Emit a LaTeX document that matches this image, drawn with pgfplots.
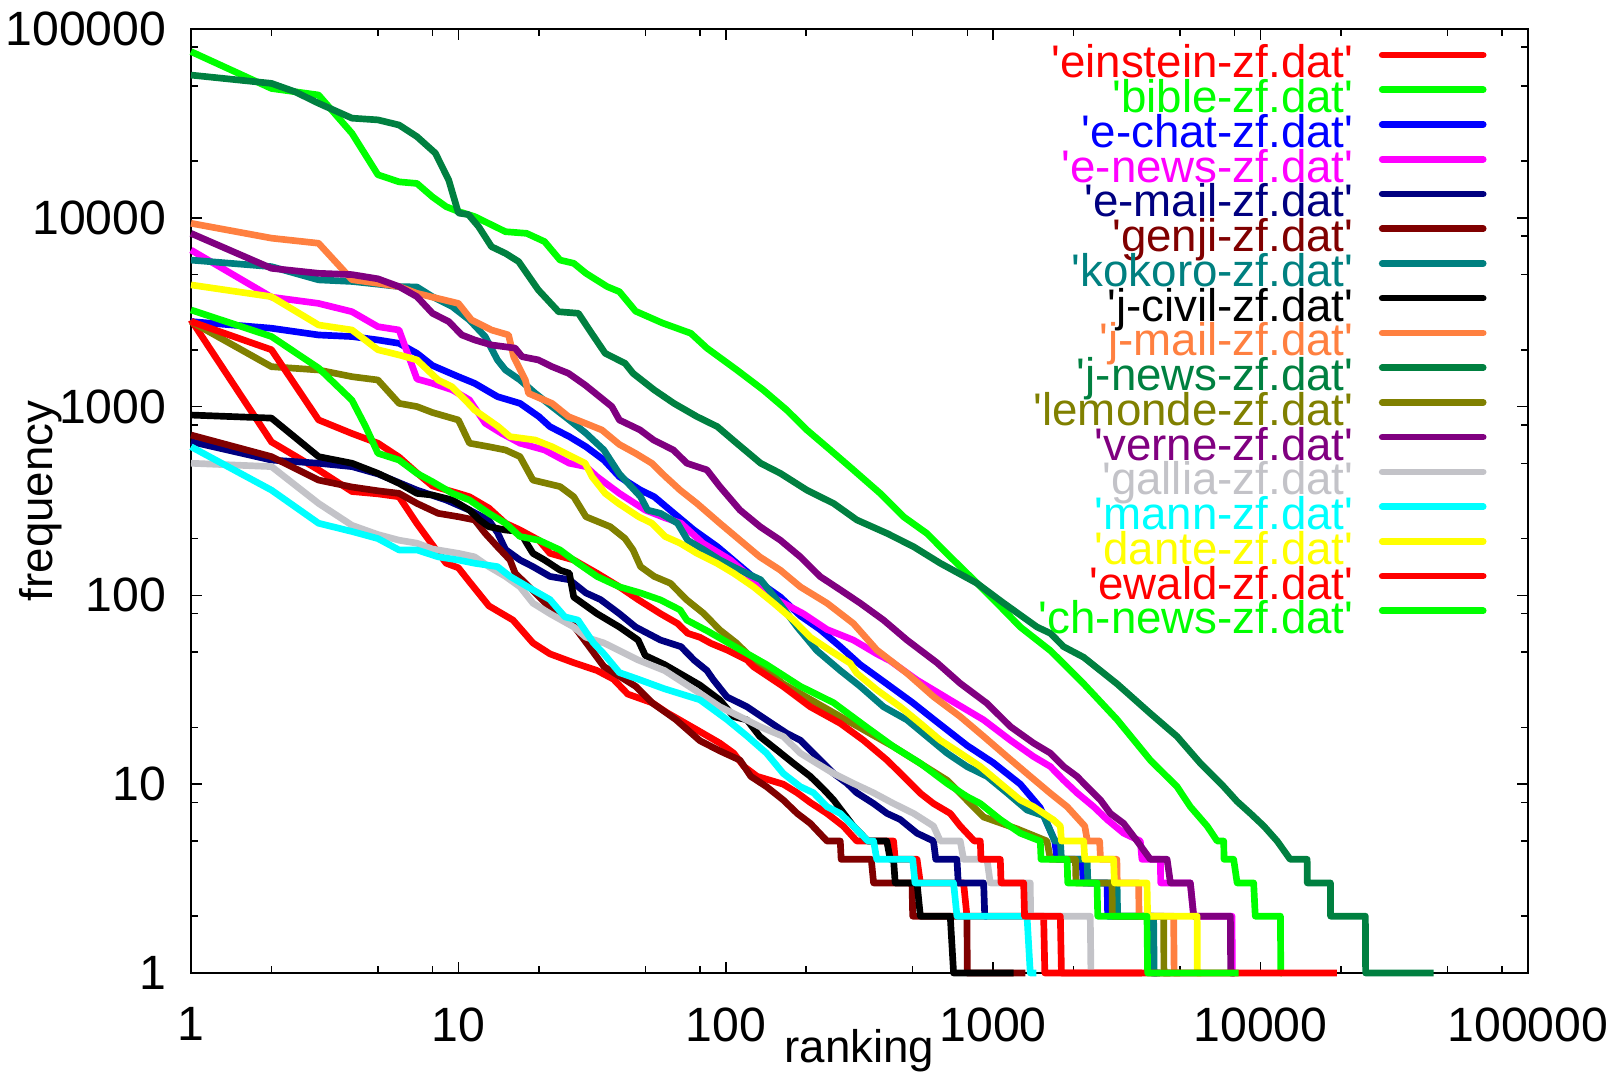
\documentclass[border=0pt]{standalone}
\usepackage{fontspec}
\setmainfont{Liberation Sans}
\usepackage{pgfplots}
\pgfplotsset{compat=1.18}

\definecolor{cEin}{RGB}{255,0,0}
\definecolor{cBib}{RGB}{0,255,0}
\definecolor{cChat}{RGB}{0,0,255}
\definecolor{cNews}{RGB}{255,0,255}
\definecolor{cMail}{RGB}{0,0,128}
\definecolor{cGenji}{RGB}{128,0,0}
\definecolor{cKok}{RGB}{0,128,128}
\definecolor{cCivil}{RGB}{0,0,0}
\definecolor{cJmail}{RGB}{255,128,64}
\definecolor{cJnews}{RGB}{0,128,64}
\definecolor{cLem}{RGB}{128,128,0}
\definecolor{cVerne}{RGB}{128,0,128}
\definecolor{cGal}{RGB}{195,195,200}
\definecolor{cMann}{RGB}{0,255,255}
\definecolor{cDante}{RGB}{255,255,0}
\definecolor{cEwald}{RGB}{255,0,0}
\definecolor{cCh}{RGB}{0,255,0}

\newcommand\q{\textquotesingle}
\newcommand\entry[2]{\addlegendentry{\textcolor{#1}{\q#2\q}}}

\begin{document}
\begin{tikzpicture}
\useasboundingbox (-1.91cm,-1.01cm) rectangle (14.28cm,9.73cm);
\begin{axis}[
  scale only axis, width=13.37cm, height=9.44cm,
  xmode=log, ymode=log,
  xmin=1, xmax=100000, ymin=1, ymax=100000,
  xtick={1,10,100,1000,10000,100000},
  xticklabels={1,10,100,1000,10000,100000},
  ytick={1,10,100,1000,10000,100000},
  yticklabels={1,10,100,1000,10000,100000},
  minor xtick={2,5,8,20,50,80,200,500,800,2000,5000,8000,20000,50000,80000},
  minor ytick={2,5,8,20,50,80,200,500,800,2000,5000,8000,20000,50000,80000},
  major tick length=0.11cm, minor tick length=0.07cm,
  tick style={black, line width=0.45pt},
  axis line style={line width=0.45pt},
  tick label style={font=\fontsize{13.7pt}{16pt}\selectfont, inner sep=0pt},
  xticklabel style={yshift=-0.34cm},
  yticklabel style={xshift=-0.24cm},
  xlabel={ranking}, ylabel={frequency},
  label style={font=\fontsize{13pt}{15pt}\selectfont, inner sep=0pt},
  xlabel style={at={(axis description cs:0.5,-0.0953)}, anchor=base},
  ylabel style={at={(axis description cs:-0.1036,0.5)}, anchor=base},
  clip=false,
  every axis plot/.append style={line width=1.9pt, line join=round},
  legend plot pos=right,
  legend cell align=right,
  legend image code/.code={\draw[#1, line width=1.9pt, line cap=round] (0cm,0.14cm) -- (1.01cm,0.14cm);},
  legend style={at={(axis description cs:0.969,0.976)}, anchor=north east,
    draw=none, fill=none, inner sep=0pt, outer sep=0pt,
    font=\fontsize{13pt}{15pt}\selectfont,
    nodes={inner sep=0pt, text height=0.25cm, text depth=0.07cm},
    row sep=0.014cm, column sep=0.255cm},
]

% einstein
\addplot[cEin] coordinates {
(1,2880) (2,650) (3,462) (4,355) (5,345) (6,333) (7,240) (8,185) (9,148) (10,140)
(11,118) (13,88) (16,74) (19,56) (22,49) (27,44) (33,40) (38,36) (43,30) (53,27)
(60,24) (80,19) (95,16.5) (107,14.6) (117,12.4) (131,11) (164,10) (185,9) (207,8)
(239,7) (275,6) (309,5) (424,5) (430,4) (519,4) (534,3) (775,3) (798,2) (1544,2)
(1560,1) (3600,1)};
\entry{cEin}{einstein-zf.dat}

% bible
\addplot[cBib] coordinates {
(1,75900) (2,48400) (3,44700) (4,28000) (5,16900) (6,15500) (7,15200) (8,12900)
(9,11450) (10,10800) (11.5,10150) (15,8440) (18,8270) (21,7480) (24,5970) (27,5740)
(30,5080) (36,4320) (40,4060) (46,3200) (58,2770) (74,2445) (85,2040) (110,1563)
(138,1225) (169,959) (201,752) (246,589) (300,462) (378,347) (462,261) (565,213)
(691,160) (845,121) (1033,91) (1263,68) (1636,51) (2180,34) (2905,22) (3870,13.4)
(4870,9.7) (5460,7.6) (6310,6) (6880,5) (7280,5) (7300,4) (7930,4) (8170,3)
(9420,3) (9550,2) (11860,2) (11900,1) (12000,1)};
\entry{cBib}{bible-zf.dat}

% e-chat
\addplot[cChat] coordinates {
(1,2820) (2,2600) (3,2395) (4,2350) (5,2254) (6,2163) (7,1915) (8,1650) (10,1440)
(11.5,1328) (14,1129) (17,1040) (20,885) (22,783) (26,693) (30,613) (35,521)
(40,425) (48,361) (54,333) (64,272) (76,222) (93,181) (110,148) (135,116) (160,98)
(190,78) (225,66) (268,53.5) (318,43) (400,34) (500,27) (600,22) (800,16) (1000,13)
(1263,10) (1500,7.5) (1700,5) (1733,4) (2150,4) (2170,3) (2666,3) (2680,2)
(3900,2) (3920,1) (4100,1)};
\entry{cChat}{e-chat-zf.dat}

% e-news
\addplot[cNews] coordinates {
(1,6750) (2,3800) (3,3520) (4,3180) (5,2650) (6,2545) (7,1400) (8,1328) (9.5,1225)
(11,1084) (12.6,816) (14.5,722) (17,640) (21,589) (26,501) (30,481) (33,425)
(40,347) (50,283) (59,258) (68,241) (82,189) (104,154) (127,121) (155,95) (195,80)
(239,66) (300,58) (367,49) (412,45) (519,35.6) (691,27.9) (921,21.9) (1159,17.1)
(1416,14) (1636,12.4) (1834,10.5) (2057,9) (2375,7.6) (2666,6.5) (3075,5.5)
(3550,5) (3600,4) (4220,4) (4230,3) (5460,3) (5620,2) (7820,2) (7840,1) (8000,1)};
\entry{cNews}{e-news-zf.dat}

% e-mail
\addplot[cMail] coordinates {
(1,652) (2,521) (3,501) (4,481) (5,440) (7,361) (9,320) (11,283) (13,250) (14,215)
(15,175) (17,154) (19,142) (22,126) (26,121) (30,103) (34,95) (40,80) (46,68)
(57,58) (68,53.5) (76,45.5) (85,40) (90,35.6) (101,29) (120,25.7) (142,21.9)
(169,18.6) (190,17.1) (219,14) (253,11.4) (284,10.1) (309,9) (357,7.9) (401,7)
(449,6.5) (519,5.5) (598,5) (610,4) (732,4) (740,3) (921,3) (930,2) (950,2)};
\entry{cMail}{e-mail-zf.dat}

% genji
\addplot[cGenji] coordinates {
(1,707) (2,543) (3,408) (4,375) (5,358) (6,347) (7,307) (8.4,272) (10,261)
(11.5,251) (12.6,213) (14,181) (15.6,154) (16.3,131) (19.4,103) (22.4,84)
(26.6,71) (35,42) (46,33) (53,27) (65,22) (80,17) (95,15) (113,13.4) (124,11)
(142,9.7) (164,8.25) (185,7) (207,6.2) (239,5) (268,5) (270,4) (350,4) (357,3)
(497,3) (500,2) (798,2) (800,1) (1319,1)};
\entry{cGenji}{genji-zf.dat}

% kokoro
\addplot[cKok] coordinates {
(1,5970) (2,5510) (3,4690) (4,4600) (5,4450) (6,4320) (7,4300) (8,3820) (9.5,3380)
(11,2875) (12.6,2345) (14,1766) (15,1563) (17,1383) (19.4,1175) (22.4,1000)
(26,849) (30,722) (35,589) (40,440) (48,333) (51,283) (57,272) (66,241) (72,196)
(83,174) (95,154) (113,136) (135,121) (155,95) (185,68) (219,51) (268,40) (318,33)
(389,25.7) (476,21.9) (565,17.9) (672,14.6) (798,12.4) (948,11) (1126,9)
(1338,7.3) (1544,6.8) (1700,5) (1783,5) (1800,4) (2244,4) (2260,3) (2905,3)
(2920,2) (3980,2) (4000,1) (4200,1)};
\entry{cKok}{kokoro-zf.dat}

% j-civil
\addplot[cCivil] coordinates {
(1,902) (2,869) (3,543) (4,501) (5,443) (6,392) (7,347) (8,340) (9.5,320) (11,283)
(12,251) (13,231) (15,222) (17,218) (18,189) (19,167) (21,154) (24,136) (26,131)
(27,98) (33,80) (40,68) (47,58) (50,48) (59,43) (80,33.5) (95,27.9) (107,22.8)
(120,21.9) (134,17.9) (155,15.2) (179,12.9) (207,11) (232,9.4) (253,8.25)
(270,7.3) (300,6) (340,5) (400,5) (412,4) (424,4) (430,3) (519,3) (534,2) (691,2)
(711,1) (1192,1)};
\entry{cCivil}{j-civil-zf.dat}

% j-mail
\addplot[cJmail] coordinates {
(1,9350) (2,7800) (3,7330) (4,4700) (5,4500) (6,4320) (7,3980) (8,3800) (10,3520)
(11.2,2875) (13.3,2545) (15.4,2395) (16.1,1838) (16.8,1627) (17.8,1383)
(18.3,1175) (22.4,1040) (25.8,885) (29.8,816) (34.4,752) (40,630) (46,565)
(53,500) (59,430) (67.5,361) (78,307) (95,241) (113,196) (134,160) (160,136)
(190,111) (239,91) (300,71) (367,51.4) (476,38.7) (598,29.1) (753,22.8)
(921,17.9) (1126,14) (1376,11) (1636,8.95) (1890,7.6) (2200,6) (2250,5) (2500,5)
(2520,4) (2900,4) (2910,3) (3500,3) (3510,2) (4730,2) (4750,1) (5000,1)};
\entry{cJmail}{j-mail-zf.dat}

% j-news
\addplot[cJnews] coordinates {
(1,57000) (2,51500) (2.45,46500) (3,40400) (4,33700) (5,33000) (6,31000) (7,26900)
(8.2,22000) (9.2,15850) (10,10600) (10.9,10400) (11.9,8980) (13.3,7030) (15,6480)
(16.8,5860) (19.9,4150) (23.7,3180) (28.1,3120) (31.5,2445) (35.4,1915) (42,1695)
(45,1500) (54,1225) (64,1040) (78,885) (93,783) (110,639) (135,501) (160,443)
(201,361) (253,307) (309,251) (401,213) (504,181) (634,148) (869,116) (1094,91)
(1459,68) (1636,63) (1834,53.5) (2180,47) (2905,34) (3870,23.7) (4870,17.9)
(5955,12.9) (7280,9.7) (8170,8.1) (9160,7) (10280,6) (11530,5) (12900,4)
(14930,4) (14950,3) (18250,3) (18270,2) (24650,2) (24700,1) (44400,1)};
\entry{cJnews}{j-news-zf.dat}

% lemonde
\addplot[cLem] coordinates {
(1,2820) (2,1627) (3,1563) (4,1440) (5,1383) (6,1040) (7,1000) (8,930) (10,849)
(11,640) (13,613) (15,589) (17,543) (19,408) (24,377) (27,333) (30,261) (37,231)
(42,200) (45,174) (48,142) (54,126) (62,116) (71.5,94.6) (82.5,80.4) (95,65.6)
(110,55.7) (127,45.5) (164,34) (268,22.8) (424,15.8) (672,10.5) (921,6.7)
(1228,5.8) (1589,5) (1636,4) (2030,4) (2040,3) (2782,3) (2790,2) (4340,2)
(4350,1) (4600,1)};
\entry{cLem}{lemonde-zf.dat}

% verne
\addplot[cVerne] coordinates {
(1,8270) (2,5400) (3,5080) (4,5000) (5,4750) (6,4320) (7,3820) (8,3120) (9.2,2820)
(10.3,2395) (11.5,2254) (13.3,2120) (16.3,2040) (17.3,1838) (19.9,1767)
(22.4,1627) (25.8,1500) (29.8,1300) (37.5,1000) (40,849) (47.8,752) (53.7,665)
(63.7,589) (71.5,501) (85,462) (95,377) (113,283) (134.5,231) (160,196) (190,160)
(225,126) (268,107) (318,91) (389,74) (476,58) (616,44) (753,34.2) (948,26.8)
(1159,20.2) (1416,16.5) (1636,14.6) (1834,12.4) (2057,11) (2244,9.7) (2518,8.25)
(2743,7) (3075,6.2) (3452,5) (3870,4) (4470,4) (4600,3) (5460,3) (5620,2)
(7710,2) (7730,1) (8000,1)};
\entry{cVerne}{verne-zf.dat}

% gallia
\addplot[cGal] coordinates {
(1,501) (2,481) (3,307) (4,235) (5,210) (6,196) (7,189) (8,176) (10,167)
(11.5,160) (13,142) (15,126) (17,111) (19,91) (22,80) (27,68) (30,60) (35,56)
(40,51) (47,45.5) (59,40) (80,30.3) (95,25.7) (113,22.8) (134,20.2) (164,17.9)
(190,14.6) (219,12.9) (253,11.4) (300,10.1) (357,9) (424,7.9) (504,7) (598,6)
(634,5) (753,5) (775,4) (948,4) (975,3) (1376,3) (1380,2) (2307,2) (2320,1)
(2400,1)};
\entry{cGal}{gallia-zf.dat}

% mann
\addplot[cMann] coordinates {
(1,613) (2,361) (3,241) (4,218) (5,200) (6,174) (7,174) (8.4,160) (10,154)
(11.5,148) (14,142) (15.6,126) (19,107) (22,95) (25,77) (28,74) (32,56) (35,49)
(40,39) (47,36) (59,32) (80,28) (101,22) (120,18) (142,14.6) (164,11.4) (190,9.7)
(213,9) (239,7.6) (268,7) (300,6) (340,5) (357,5) (367,4) (500,4) (510,3)
(711,3) (732,2) (1338,2) (1376,1) (1450,1)};
\entry{cMann}{mann-zf.dat}

% dante
\addplot[cDante] coordinates {
(1,4410) (2,3820) (3,2705) (4,2545) (5,2000) (6,1877) (7,1767) (8.4,1383)
(9.45,1275) (10.6,1084) (11.5,959) (14.1,783) (15.6,693) (19.4,665) (22.4,613)
(26.6,543) (29.8,501) (31.6,425) (35.4,347) (39.7,307) (47.2,261) (52.9,241)
(59.3,205) (67.5,189) (78,167) (92.6,148) (107,131) (127,111) (151,91) (179,74)
(207,60) (246,51) (292,43.7) (309,38.7) (367,31.6) (449,25.7) (534,21) (634,17.1)
(753,14.6) (895,12.4) (1063,10.1) (1263,8.25) (1416,7.6) (1683,6.46) (1783,6)
(1800,5) (2180,5) (2200,4) (2820,4) (2840,3) (3760,3) (3780,2) (5790,2) (5800,1)
(6000,1)};
\entry{cDante}{dante-zf.dat}

% ewald
\addplot[cEwald] coordinates {
(1,2820) (2,2000) (3,850) (4,720) (5,640) (6,540) (7,445) (8,380) (10,347) (11,333)
(13,290) (15,241) (17,222) (20,196) (22,167) (27,154) (33,131) (40,111) (47,95)
(57,80) (66,71) (72,63) (80,60) (88,55.7) (101,51.4) (120,45.5) (127,41.9)
(164,32.9) (207,25.7) (268,21) (327,17.1) (401,13.4) (462,11) (534,8.95)
(598,7.9) (691,7) (753,6) (850,5) (895,5) (900,4) (1063,4) (1070,3) (1300,3)
(1310,2) (1783,2) (1800,1) (19300,1)};
\entry{cEwald}{ewald-zf.dat}

% ch-news
\addplot[cCh] coordinates {
(1,3250) (2,2350) (3,1600) (4,1080) (4.5,783) (5,566) (6,521) (7,443) (8,400)
(9.5,347) (11,320) (13,272) (15,241) (17,205) (20,196) (24,174) (28,148) (33,126)
(40,111) (48,103) (57,94.6) (67.5,83.7) (71.5,74) (85,65) (107,54) (142,43)
(190,33) (253,27) (337,20) (424,15.8) (534,12.9) (672,10.1) (798,8.6) (895,7.9)
(1063,6.5) (1263,5.5) (1500,5) (1510,4) (1890,4) (1900,3) (2445,3) (2460,2)
(3760,2) (3780,1) (8280,1)};
\entry{cCh}{ch-news-zf.dat}

\end{axis}
\end{tikzpicture}
\end{document}
